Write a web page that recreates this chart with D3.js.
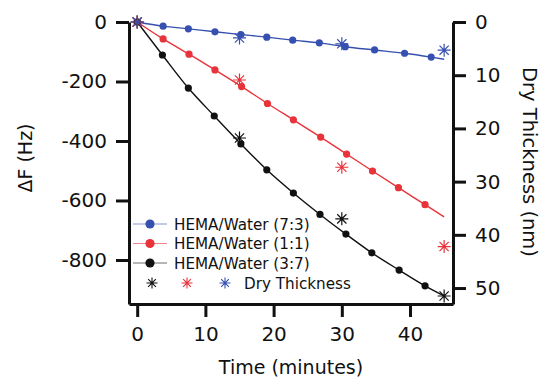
<!DOCTYPE html>
<html>
<head>
<meta charset="utf-8">
<script src="https://cdnjs.cloudflare.com/ajax/libs/d3/7.8.5/d3.min.js"></script>
<style>
  body { margin: 0; background: #fff; }
  text { font-family: "DejaVu Sans", sans-serif; fill: #111; }
</style>
</head>
<body>
<svg id="chart" width="543" height="377"></svg>
<script>
// QCM frequency shift (Hz) vs time, three HEMA/water ratios
var timesBlue  = [0, 3.8, 7.5, 11.4, 15.2, 19, 22.8, 26.7, 30.5, 34.8, 39.2, 43.1];
var hzBlue     = [0, -14, -23, -33, -42, -51, -61, -70, -83, -94, -105, -118];
var timesRed   = [0, 3.8, 7.6, 11.4, 15.3, 19.1, 22.9, 26.9, 30.7, 34.5, 38.3, 42.2];
var hzRed      = [0, -57, -108, -161, -217, -274, -329, -387, -444, -501, -557, -614];
var timesBlack = [0, 3.7, 7.5, 11.3, 15.2, 19.0, 22.9, 26.8, 30.6, 34.4, 38.4, 42.2];
var hzBlack    = [0, -111, -222, -316, -410, -497, -575, -647, -713, -776, -834, -887];

// fitted line end values at t = 45 min
var fitEndTime = 45;
var fitEndHz   = [-125, -655, -921];

// dry thickness (nm) measured at 0, 15, 30, 45 min
var thickTimes = [0, 15, 30, 45];
var thickBlue  = [0, 3.0, 4.1, 5.3];
var thickRed   = [0, 10.9, 27.3, 42.2];
var thickBlack = [0, 21.8, 37.0, 51.5];

var seriesNames = ["HEMA/Water (7:3)", "HEMA/Water (1:1)", "HEMA/Water (3:7)"];
var colors = ["#3650b0", "#e8333a", "#111111"];

var xTicks = [0, 10, 20, 30, 40];
var yTicks = [0, -200, -400, -600, -800];
var y2Ticks = [0, 10, 20, 30, 40, 50];

var svg = d3.select("#chart");

var x = d3.scaleLinear().domain([-1.2, 46.3]).range([129, 453]);
var y = d3.scaleLinear().domain([0, -948]).range([22, 304]);
var y2 = d3.scaleLinear().domain([0, 53]).range([22, 304]);

function styleAxis(g) {
  g.select(".domain").attr("stroke", "#111").attr("stroke-width", 3);
  g.selectAll(".tick line").attr("stroke", "#111").attr("stroke-width", 3);
  g.selectAll(".tick text").style("font-size", "20px").attr("fill", "#111");
}

// plain hyphen for negatives, like the original
var fmt = d => String(d);

svg.append("g")
  .attr("transform", "translate(129,0)")
  .call(d3.axisLeft(y).tickValues(yTicks).tickFormat(fmt).tickSize(13).tickSizeOuter(0).tickPadding(9))
  .call(styleAxis);

svg.append("g")
  .attr("transform", "translate(453,0)")
  .call(d3.axisRight(y2).tickValues(y2Ticks).tickFormat(fmt).tickSize(13).tickSizeOuter(0).tickPadding(9))
  .call(styleAxis);

svg.append("g")
  .attr("transform", "translate(0,304)")
  .call(d3.axisBottom(x).tickValues(xTicks).tickFormat(fmt).tickSize(13).tickSizeOuter(0).tickPadding(10))
  .call(styleAxis);

// axis titles
svg.append("text")
  .attr("transform", "translate(32,158) rotate(-90)")
  .attr("text-anchor", "middle")
  .style("font-size", "19px")
  .text("ΔF (Hz)");

svg.append("text")
  .attr("x", 291).attr("y", 374)
  .attr("text-anchor", "middle")
  .style("font-size", "19px")
  .text("Time (minutes)");

svg.append("text")
  .attr("transform", "translate(523,162) rotate(90)")
  .attr("text-anchor", "middle")
  .style("font-size", "19.5px")
  .text("Dry Thickness (nm)");

function starPath(r) {
  var d = "";
  for (var i = 0; i < 4; i++) {
    var a = i * Math.PI / 4;
    var dx = r * Math.cos(a), dy = r * Math.sin(a);
    d += "M" + (-dx) + "," + (-dy) + "L" + dx + "," + dy;
  }
  return d;
}

var line = d3.line().x(d => x(d[0])).y(d => y(d[1])).curve(d3.curveMonotoneX);

var series = [
  {t: timesBlue, v: hzBlue, th: thickBlue},
  {t: timesRed, v: hzRed, th: thickRed},
  {t: timesBlack, v: hzBlack, th: thickBlack}
];

series.forEach(function(s, i) {
  var pts = s.t.map((t, j) => [t, s.v[j]]);
  var linePts = pts.concat([[fitEndTime, fitEndHz[i]]]);
  svg.append("path")
    .attr("d", line(linePts))
    .attr("fill", "none")
    .attr("stroke", colors[i])
    .attr("stroke-width", 1.4);
  svg.selectAll(null).data(pts).enter().append("circle")
    .attr("cx", d => x(d[0])).attr("cy", d => y(d[1]))
    .attr("r", 3.6).attr("fill", colors[i]);
});

// dry thickness stars (right axis)
[2, 1, 0].forEach(function(i) {
  svg.selectAll(null).data(thickTimes.map((t, j) => [t, series[i].th[j]])).enter()
    .append("path")
    .attr("transform", d => "translate(" + x(d[0]) + "," + y2(d[1]) + ")")
    .attr("d", starPath(6.5))
    .attr("stroke", colors[i])
    .attr("stroke-width", 1.2)
    .attr("fill", "none");
});

// legend
var lg = svg.append("g");
seriesNames.forEach(function(name, i) {
  var yy = 224 + i * 19.5;
  lg.append("line").attr("x1", 133).attr("x2", 167).attr("y1", yy).attr("y2", yy)
    .attr("stroke", colors[i]).attr("stroke-width", 1).attr("opacity", 0.6);
  lg.append("circle").attr("cx", 150).attr("cy", yy).attr("r", 4.6).attr("fill", colors[i]);
  lg.append("text").attr("x", 174).attr("y", yy + 5.5).style("font-size", "15.2px").text(name);
});
var starX = [225, 187, 152];
[0, 1, 2].forEach(function(i) {
  lg.append("path")
    .attr("transform", "translate(" + starX[i] + ",283)")
    .attr("d", starPath(5.5))
    .attr("stroke", colors[i]).attr("stroke-width", 1.1).attr("fill", "none");
});
lg.append("text").attr("x", 244).attr("y", 288.5).style("font-size", "15.2px").text("Dry Thickness");
</script>
</body>
</html>
